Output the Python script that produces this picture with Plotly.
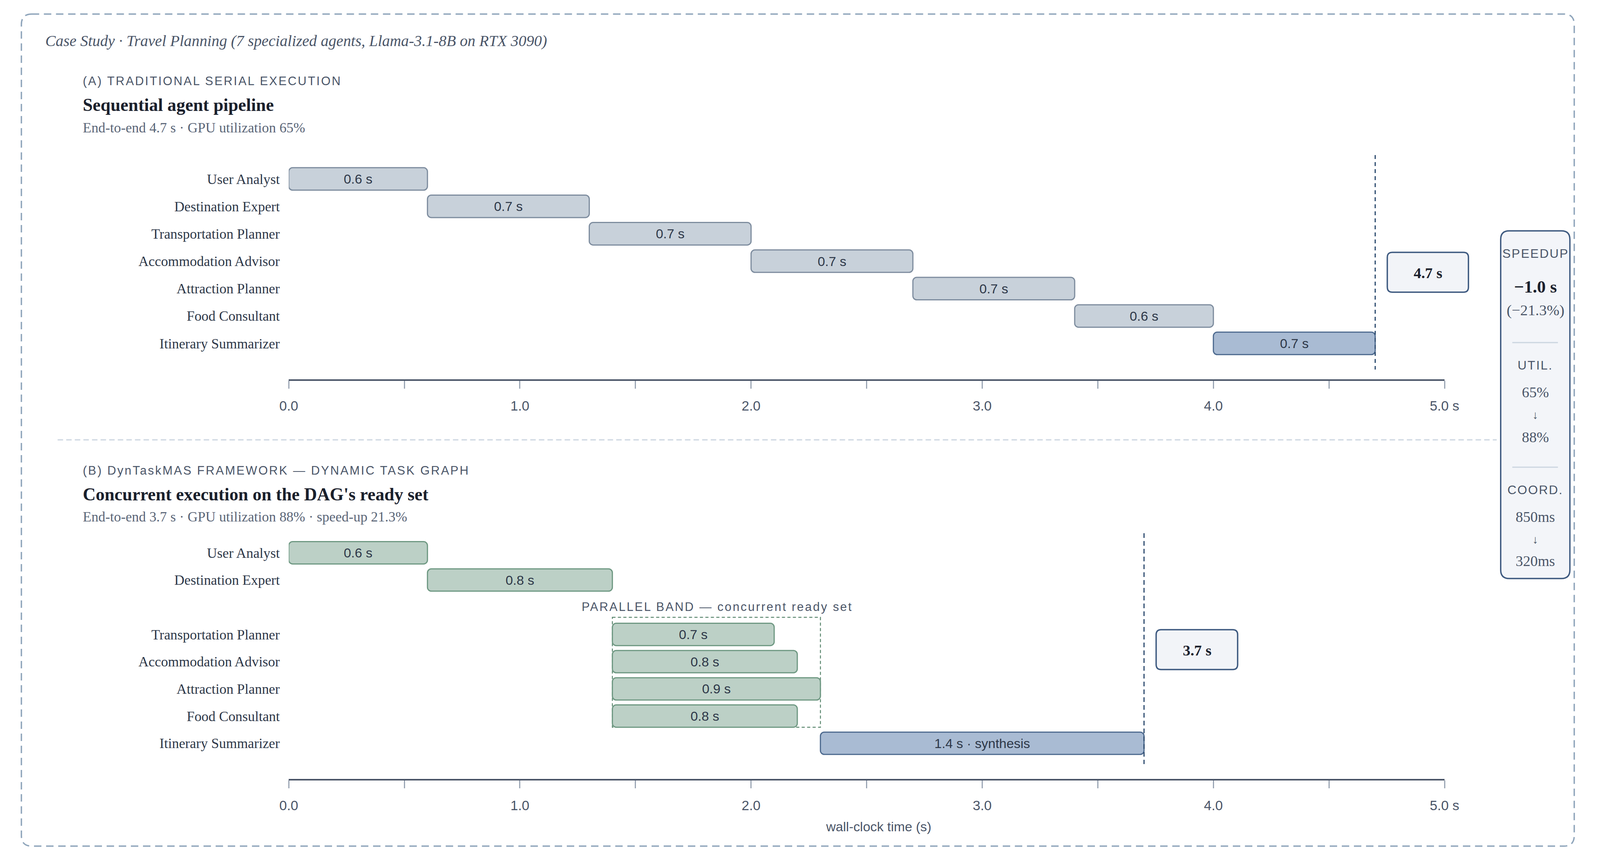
import plotly.graph_objects as go

# the page is shown in a 4096x2199 viewport with the default 8px body margin
VW, VH = 4096, 2199
FW, FH = VW - 16, VH - 16
SX = VW / 4349          # layout below is measured on a 4349-wide sketch
FS = 0.97               # font scale to compromise for the narrower canvas

# ---- data ----
agents = ["User Analyst", "Destination Expert", "Transportation Planner",
          "Accommodation Advisor", "Attraction Planner", "Food Consultant",
          "Itinerary Summarizer"]

serial_start = [0.0, 0.6, 1.3, 2.0, 2.7, 3.4, 4.0]
serial_dur = [0.6, 0.7, 0.7, 0.7, 0.7, 0.6, 0.7]

dag_start = [0.0, 0.6, 1.4, 1.4, 1.4, 1.4, 2.3]
dag_dur = [0.6, 0.8, 0.7, 0.8, 0.9, 0.8, 1.4]
dag_note = ["", "", "", "", "", "", "synthesis"]
parallel_set = ["Transportation Planner", "Accommodation Advisor",
                "Attraction Planner", "Food Consultant"]

tick_vals = [0.0, 0.5, 1.0, 1.5, 2.0, 2.5, 3.0, 3.5, 4.0, 4.5, 5.0]
tick_text = ["0.0", "", "1.0", "", "2.0", "", "3.0", "", "4.0", "", "5.0 s"]

serial_util = "65%"
dag_util = "88%"
coord_before = "850ms"
coord_after = "320ms"

SERIF = "Liberation Serif"
SANS = "Liberation Sans"
INK = "#1a202c"
TXT = "#2d3748"
MUTED = "#4a5568"
SUB = "#5a6577"
NAVY = "#3e5a80"


def fx(px):
    return px * SX - 8


def fy(py):
    return py - 8


def X(px):
    return fx(px) / FW


def Y(py):
    return 1 - fy(py) / FH


def f(size):
    return round(size * FS, 1)


def rrect(x0, y0, x1, y1, r):
    # rounded rectangle path (paper coords), box measured in sketch pixels
    a, b, c, d = fx(x0), fy(y0), fx(x1), fy(y1)
    px = lambda v: v / FW
    py = lambda v: 1 - v / FH
    return (f"M {px(a + r)},{py(b)} L {px(c - r)},{py(b)} "
            f"Q {px(c)},{py(b)} {px(c)},{py(b + r)} L {px(c)},{py(d - r)} "
            f"Q {px(c)},{py(d)} {px(c - r)},{py(d)} L {px(a + r)},{py(d)} "
            f"Q {px(a)},{py(d)} {px(a)},{py(d - r)} L {px(a)},{py(b + r)} "
            f"Q {px(a)},{py(b)} {px(a + r)},{py(b)} Z")


def spaced(text, px):
    return f'<span style="letter-spacing:{px}px">{text}</span>'


serial_end = max(s + d for s, d in zip(serial_start, serial_dur))
dag_end = max(s + d for s, d in zip(dag_start, dag_dur))
saved = serial_end - dag_end
pct = saved / serial_end * 100

fig = go.Figure()

# (A) serial bars
fig.add_trace(go.Bar(
    y=agents, x=serial_dur, base=serial_start, orientation="h",
    width=0.82,
    marker=dict(
        color=["#a9bbd3" if a == "Itinerary Summarizer" else "#c8d1da" for a in agents],
        line=dict(color=["#4d6a8f" if a == "Itinerary Summarizer" else "#7d8c9e" for a in agents],
                  width=3),
        cornerradius=10),
    text=[f"{d:.1f} s" for d in serial_dur],
    textposition="inside", insidetextanchor="middle", constraintext="none",
    insidetextfont=dict(family=SANS, size=f(35), color=TXT),
    hoverinfo="skip", showlegend=False,
    xaxis="x", yaxis="y"))

# (B) DAG bars
dag_text = [f"{d:.1f} s" + (f" · {n}" if n else "") for d, n in zip(dag_dur, dag_note)]
fig.add_trace(go.Bar(
    y=agents, x=dag_dur, base=dag_start, orientation="h",
    width=0.82,
    marker=dict(
        color=["#a9bbd3" if a == "Itinerary Summarizer" else "#bcd0c6" for a in agents],
        line=dict(color=["#4d6a8f" if a == "Itinerary Summarizer" else "#6e9882" for a in agents],
                  width=3),
        cornerradius=10),
    text=dag_text,
    textposition="inside", insidetextanchor="middle", constraintext="none",
    insidetextfont=dict(family=SANS, size=f(35), color=TXT),
    hoverinfo="skip", showlegend=False,
    xaxis="x2", yaxis="y2"))

xdom = [X(771), X(3961)]
xaxis_common = dict(
    domain=xdom, range=[0, 5], showgrid=False, zeroline=False,
    showline=True, linecolor=MUTED, linewidth=3.5,
    ticks="outside", ticklen=20, tickwidth=3, tickcolor="#9aa5b4",
    tickvals=tick_vals, ticktext=tick_text, ticklabelstandoff=14,
    tickfont=dict(family=SANS, size=f(36), color=MUTED), fixedrange=True)

yaxis_common = dict(
    type="category", categoryorder="array", showgrid=False, zeroline=False,
    showline=False, ticks="", ticklabelstandoff=22,
    tickfont=dict(family=SERIF, size=f(37), color=TXT), fixedrange=True)

cats_b = agents[:2] + [" "] + agents[2:]

fig.update_layout(
    width=FW, height=FH, margin=dict(l=0, r=0, t=0, b=0),
    paper_bgcolor="white", plot_bgcolor="rgba(0,0,0,0)",
    barmode="overlay",
    xaxis=dict(anchor="y", **xaxis_common),
    yaxis=dict(anchor="x", domain=[Y(971), Y(397)], range=[7.31, -0.87],
               categoryarray=agents, **yaxis_common),
    xaxis2=dict(anchor="y2", **xaxis_common),
    yaxis2=dict(anchor="x2", domain=[Y(1994), Y(1365)], range=[8.31, -0.72],
                categoryarray=cats_b, **yaxis_common),
)

shapes = []
# outer dashed card
shapes.append(dict(type="path", xref="paper", yref="paper",
                   path=rrect(33, 36, 4319, 2166, 27),
                   line=dict(color="#8fa5bb", width=3.5, dash="19px,12px"), layer="below"))
# divider between panels
shapes.append(dict(type="line", xref="paper", yref="paper",
                   x0=X(133), x1=X(4105), y0=Y(1126), y1=Y(1126),
                   line=dict(color="#cbd5e0", width=3, dash="14px,8px"), layer="below"))
# end-to-end markers
shapes.append(dict(type="line", xref="x", yref="paper", x0=serial_end, x1=serial_end,
                   y0=Y(397), y1=Y(946), line=dict(color="#2c4a6e", width=3, dash="10px,8px")))
shapes.append(dict(type="line", xref="x2", yref="paper", x0=dag_end, x1=dag_end,
                   y0=Y(1365), y1=Y(1956), line=dict(color="#2c4a6e", width=3, dash="12px,8px")))
# parallel band
p_idx = [cats_b.index(a) for a in parallel_set]
p_start = min(dag_start[agents.index(a)] for a in parallel_set)
p_end = max(dag_start[agents.index(a)] + dag_dur[agents.index(a)] for a in parallel_set)
shapes.append(dict(type="rect", xref="x2", yref="y2", x0=p_start, x1=p_end,
                   y0=min(p_idx) - 0.63, y1=max(p_idx) + 0.41,
                   line=dict(color="#5f8a72", width=2.5, dash="8px,6px"), layer="below"))
# total time boxes
shapes.append(dict(type="path", xref="paper", yref="paper", path=rrect(3803, 646, 4027, 748, 13),
                   fillcolor="#f2f4f8", line=dict(color=NAVY, width=3.5)))
shapes.append(dict(type="path", xref="paper", yref="paper", path=rrect(3165, 1612, 3390, 1714, 13),
                   fillcolor="#f2f4f8", line=dict(color=NAVY, width=3.5)))
# speedup panel
shapes.append(dict(type="path", xref="paper", yref="paper", path=rrect(4116, 591, 4307, 1481, 22),
                   fillcolor="#f3f5f9", line=dict(color=NAVY, width=3.5)))
for yy in (877, 1196):
    shapes.append(dict(type="line", xref="paper", yref="paper", x0=X(4148), x1=X(4274),
                       y0=Y(yy), y1=Y(yy), line=dict(color="#cbd5e0", width=3)))
fig.update_layout(shapes=shapes)

ann = []


def text(px, py, s, family, size, color, anchor="left"):
    ann.append(dict(xref="paper", yref="paper", x=X(px), y=Y(py), text=s,
                    showarrow=False, xanchor=anchor, yanchor="middle",
                    font=dict(family=family, size=f(size), color=color)))


text(97, 105, "<i>Case Study · Travel Planning (7 specialized agents, Llama-3.1-8B on RTX 3090)</i>",
     SERIF, 41, MUTED)

text(200, 208, spaced("(A) TRADITIONAL SERIAL EXECUTION", 3.2), SANS, 32, MUTED)
text(200, 269, "<b>Sequential agent pipeline</b>", SERIF, 47, INK)
text(200, 327, f"End-to-end {serial_end:.1f} s · GPU utilization {serial_util}", SERIF, 37, SUB)

text(200, 1204, spaced("(B) DynTaskMAS FRAMEWORK — DYNAMIC TASK GRAPH", 3.2), SANS, 32, MUTED)
text(200, 1265, "<b>Concurrent execution on the DAG's ready set</b>", SERIF, 47, INK)
text(200, 1323, f"End-to-end {dag_end:.1f} s · GPU utilization {dag_util} · speed-up {pct:.1f}%",
     SERIF, 37, SUB)

text(1953, 1553, spaced("PARALLEL BAND — concurrent ready set", 3.2), SANS, 32, MUTED, "center")
text(2399, 2116, "wall-clock time (s)", SANS, 35, MUTED, "center")

text(3915, 698, f"<b>{serial_end:.1f} s</b>", SERIF, 40, INK, "center")
text(3278, 1664, f"<b>{dag_end:.1f} s</b>", SERIF, 40, INK, "center")

cx = 4212
text(cx, 649, spaced("SPEEDUP", 2.5), SANS, 33, MUTED, "center")
text(cx, 734, f"<b>−{saved:.1f} s</b>", SERIF, 46, INK, "center")
text(cx, 794, f"(−{pct:.1f}%)", SERIF, 40, MUTED, "center")
text(cx, 935, spaced("UTIL.", 2.5), SANS, 33, MUTED, "center")
text(cx, 1004, serial_util, SERIF, 39, MUTED, "center")
text(cx, 1062, "↓", SERIF, 30, MUTED, "center")
text(cx, 1119, dag_util, SERIF, 39, MUTED, "center")
text(cx, 1254, spaced("COORD.", 2.5), SANS, 33, MUTED, "center")
text(cx, 1323, coord_before, SERIF, 39, MUTED, "center")
text(cx, 1381, "↓", SERIF, 30, MUTED, "center")
text(cx, 1436, coord_after, SERIF, 39, MUTED, "center")

fig.update_layout(annotations=ann)

fig.write_html("out.html")
